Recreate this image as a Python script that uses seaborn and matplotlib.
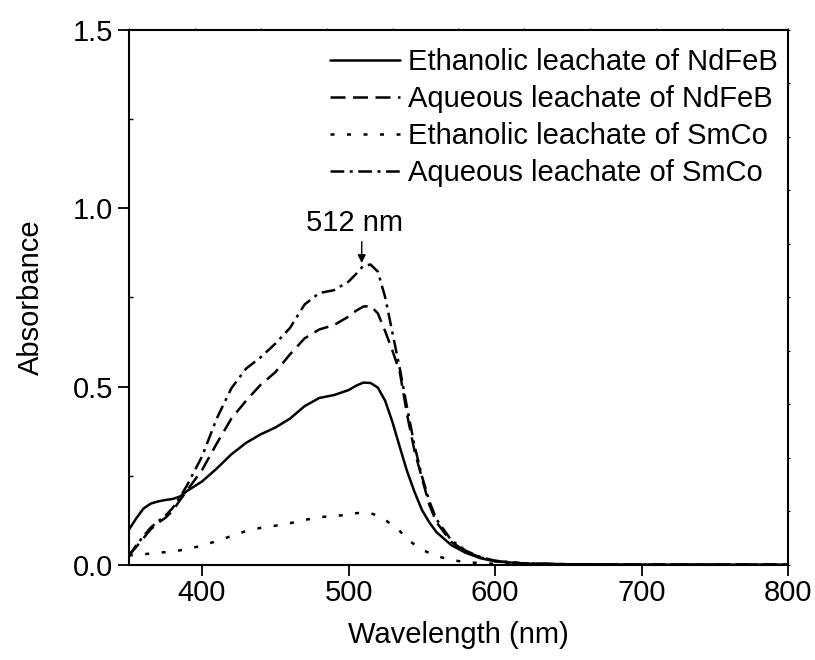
import numpy as np
import pandas as pd
import matplotlib
matplotlib.use("Agg")
import matplotlib.pyplot as plt
import seaborn as sns

# ---- data ----
wavelength = [350, 355, 360, 365, 370, 375, 380, 385, 390, 400, 410, 420, 430, 440,
              450, 460, 470, 480, 490, 500, 505, 510, 515, 520, 525, 530, 535, 540,
              545, 550, 555, 560, 570, 580, 590, 600, 620, 650, 700, 750, 800]

eth_ndfeb = [0.098, 0.130, 0.158, 0.172, 0.178, 0.182, 0.185, 0.192, 0.208, 0.234, 0.270,
             0.310, 0.342, 0.366, 0.385, 0.410, 0.445, 0.468, 0.476, 0.490, 0.502, 0.511,
             0.510, 0.497, 0.460, 0.400, 0.330, 0.262, 0.205, 0.155, 0.120, 0.092, 0.056,
             0.034, 0.019, 0.010, 0.004, 0.002, 0.001, 0.001, 0.001]

aq_ndfeb = [0.028, 0.050, 0.075, 0.100, 0.118, 0.132, 0.152, 0.182, 0.210, 0.266, 0.340,
            0.410, 0.460, 0.505, 0.540, 0.590, 0.635, 0.660, 0.672, 0.696, 0.712, 0.724,
            0.726, 0.705, 0.655, 0.600, 0.540, 0.420, 0.320, 0.245, 0.170, 0.120, 0.065,
            0.038, 0.021, 0.011, 0.004, 0.002, 0.001, 0.001, 0.001]

eth_smco = [0.027, 0.028, 0.030, 0.032, 0.034, 0.036, 0.038, 0.041, 0.045, 0.054, 0.067,
            0.081, 0.095, 0.104, 0.110, 0.117, 0.126, 0.134, 0.137, 0.141, 0.145, 0.147,
            0.145, 0.138, 0.127, 0.110, 0.095, 0.073, 0.057, 0.043, 0.034, 0.025, 0.014,
            0.008, 0.005, 0.003, 0.001, 0.001, 0.000, 0.000, 0.000]

aq_smco = [0.023, 0.055, 0.080, 0.105, 0.122, 0.138, 0.160, 0.190, 0.225, 0.304, 0.410,
           0.495, 0.550, 0.582, 0.620, 0.664, 0.730, 0.762, 0.770, 0.794, 0.815, 0.838,
           0.842, 0.822, 0.750, 0.650, 0.550, 0.440, 0.335, 0.250, 0.180, 0.128, 0.070,
           0.040, 0.022, 0.012, 0.004, 0.002, 0.001, 0.001, 0.001]

series_names = ["Ethanolic leachate of NdFeB", "Aqueous leachate of NdFeB",
                "Ethanolic leachate of SmCo", "Aqueous leachate of SmCo"]
series_values = [eth_ndfeb, aq_ndfeb, eth_smco, aq_smco]

x_ticks = [400, 500, 600, 700, 800]
y_ticks = [0.0, 0.5, 1.0, 1.5]

rows = []
for name, vals in zip(series_names, series_values):
    for w, v in zip(wavelength, vals):
        rows.append((name, w, v))
df = pd.DataFrame(rows, columns=["series", "wavelength", "absorbance"])

# ---- style ----
sns.set_theme(style="ticks")
plt.rcParams["font.family"] = ["Liberation Sans", "DejaVu Sans"]
plt.rcParams["axes.linewidth"] = 1.5

fig = plt.figure(figsize=(8.15, 6.6), dpi=100)
ax = fig.add_axes([0.158, 0.144, 0.809, 0.811])

dashes = {
    series_names[0]: "",
    series_names[1]: (6, 3),
    series_names[2]: (1.6, 5),
    series_names[3]: (5.5, 2.2, 1.2, 2.2),
}
sns.lineplot(data=df, x="wavelength", y="absorbance", style="series",
             style_order=series_names, dashes=dashes, color="black",
             linewidth=1.8, estimator=None, sort=False, legend=False, ax=ax)

ax.set_xlim(350, 800)
ax.set_ylim(0, 1.5)
ax.set_xticks(x_ticks)
ax.set_yticks(y_ticks)
ax.set_yticklabels([f"{t:.1f}" for t in y_ticks])
ax.set_yticks([0.25, 0.75, 1.25], minor=True)
ax.tick_params(axis="both", which="major", direction="out", length=8, width=1.3,
               labelsize=21, color="black", labelcolor="black")
ax.tick_params(axis="x", which="major", pad=2)
ax.tick_params(axis="y", which="major", pad=3)
ax.tick_params(axis="y", which="minor", direction="in", length=3, width=1.0, color="black")
for s in ax.spines.values():
    s.set_color("black")
    s.set_linewidth(1.5)

# tiny marks on the opposite (top / right) axes
secx = ax.secondary_xaxis("top")
secx.set_xticks(list(np.linspace(350, 800, 11)))
secx.tick_params(direction="out", length=1.5, width=0.8, labeltop=False, color="black")
secx.spines["top"].set_visible(False)
secy = ax.secondary_yaxis("right")
secy.set_yticks(list(np.linspace(0, 1.5, 11)))
secy.tick_params(direction="out", length=1.5, width=0.8, labelright=False, color="black")
secy.spines["right"].set_visible(False)

ax.set_xlabel("Wavelength (nm)", fontsize=21, labelpad=10, color="black")
ax.set_ylabel("Absorbance", fontsize=21, labelpad=20, color="black")

# legend
handles = ax.get_lines()[:4]
leg = ax.legend(handles, series_names, loc="upper right", bbox_to_anchor=(0.985, 0.966),
                frameon=False, fontsize=21, handlelength=2.4, handletextpad=0.28,
                labelspacing=0.31, borderpad=0, borderaxespad=0)
for t in leg.get_texts():
    t.set_color("black")

# peak annotation
ax.annotate("", xy=(509, 0.846), xytext=(509, 0.906),
            arrowprops=dict(arrowstyle="-|>", lw=1.0, color="black", mutation_scale=12,
                            shrinkA=0, shrinkB=0))
ax.text(504, 0.935, "512 nm", ha="center", va="baseline", fontsize=21, color="black")

fig.savefig("out.png", dpi=100)
